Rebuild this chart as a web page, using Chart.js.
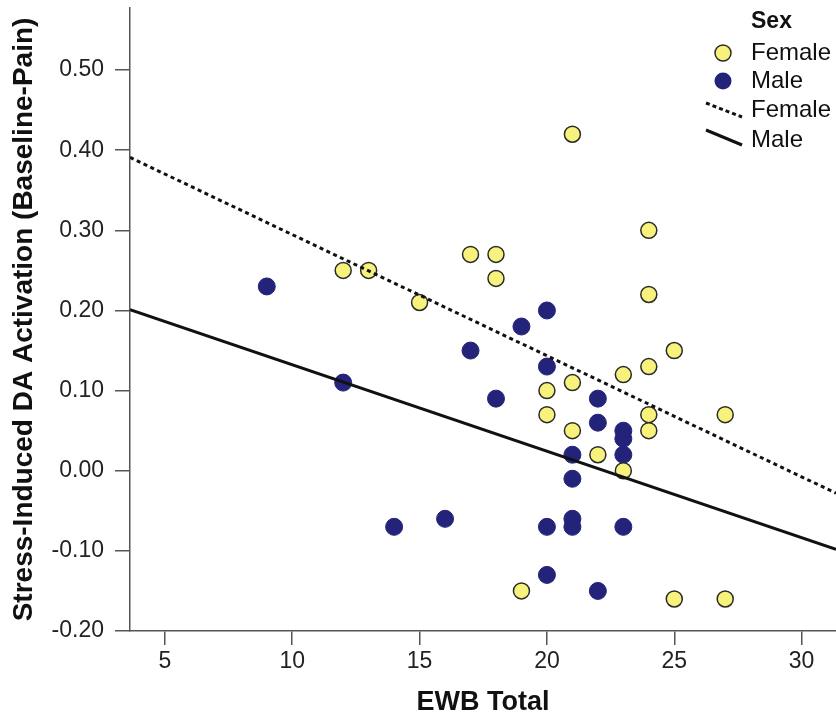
<!DOCTYPE html>
<html>
<head>
<meta charset="utf-8">
<script src="https://cdn.jsdelivr.net/npm/chart.js@4.4.0/dist/chart.umd.min.js"></script>
<style>
  body { margin: 0; background: #fff; }
  #wrap { width: 836px; height: 721px; }
</style>
</head>
<body>
<div id="wrap"><canvas id="scatterChart" width="836" height="721"></canvas></div>
<script>
// EWB total vs stress-induced DA activation, split by sex
const femaleEwb = [12, 13, 15, 17, 18, 18, 21, 24, 24, 25, 24, 23, 21, 20, 20, 24, 27, 21, 24, 22, 23, 19, 25, 27];
const femaleDa = [0.25, 0.25, 0.21, 0.27, 0.27, 0.24, 0.42, 0.30, 0.22, 0.15, 0.13, 0.12, 0.11, 0.10, 0.07, 0.07, 0.07, 0.05, 0.05, 0.02, 0.00, -0.15, -0.16, -0.16];

const maleEwb = [9, 12, 14, 16, 17, 18, 19, 20, 20, 20, 20, 21, 21, 21, 21, 22, 22, 22, 23, 23, 23, 23];
const maleDa = [0.23, 0.11, -0.07, -0.06, 0.15, 0.09, 0.18, 0.20, 0.13, -0.07, -0.13, 0.02, -0.01, -0.06, -0.07, 0.09, 0.06, -0.15, 0.05, 0.04, 0.02, -0.07];

// fit lines, read at both ends of the x axis
const fitEwb = [3.63, 31.35];
const femaleFit = [0.391, -0.028];
const maleFit = [0.201, -0.098];

const xTicks = [5, 10, 15, 20, 25, 30];
const yTicks = [-0.2, -0.1, 0, 0.1, 0.2, 0.3, 0.4, 0.5];

const FONT = '"Liberation Sans", Arial, sans-serif';
const YELLOW = '#f6f27c';
const NAVY = '#23237a';

function toPoints(xs, ys) {
    return xs.map((x, i) => ({ x: x, y: ys[i] }));
}

// hand-drawn legend in the top right corner
const sexLegend = {
    id: 'sexLegend',
    afterDraw(chart) {
        const ctx = chart.ctx;
        ctx.save();
        ctx.fillStyle = '#111';
        ctx.textBaseline = 'middle';
        ctx.textAlign = 'left';
        ctx.font = 'bold 23px ' + FONT;
        ctx.fillText('Sex', 751, 22);

        ctx.font = '24px ' + FONT;
        const ds = chart.data.datasets;

        // point symbols
        ctx.lineWidth = 1.5;
        ctx.beginPath();
        ctx.arc(723, 53, 8, 0, Math.PI * 2);
        ctx.fillStyle = YELLOW;
        ctx.fill();
        ctx.strokeStyle = '#2a2a2a';
        ctx.stroke();
        ctx.beginPath();
        ctx.arc(723, 81, 8.5, 0, Math.PI * 2);
        ctx.fillStyle = NAVY;
        ctx.fill();

        // line symbols
        ctx.strokeStyle = '#111';
        ctx.lineWidth = 3;
        ctx.setLineDash([4, 3]);
        ctx.beginPath();
        ctx.moveTo(706, 103);
        ctx.lineTo(742, 117);
        ctx.stroke();
        ctx.setLineDash([]);
        ctx.beginPath();
        ctx.moveTo(706, 130);
        ctx.lineTo(742, 145);
        ctx.stroke();

        ctx.fillStyle = '#111';
        ctx.fillText(ds[0].label, 751, 53);
        ctx.fillText(ds[1].label, 751, 81);
        ctx.fillText(ds[2].label, 751, 110);
        ctx.fillText(ds[3].label, 751, 140);
        ctx.restore();
    }
};

const ctx = document.getElementById('scatterChart').getContext('2d');
const chart = new Chart(ctx, {
    type: 'scatter',
    data: {
        datasets: [{
            label: 'Female',
            data: toPoints(femaleEwb, femaleDa),
            backgroundColor: YELLOW,
            borderColor: '#2a2a2a',
            borderWidth: 1.5,
            pointRadius: 8,
            order: 2
        }, {
            label: 'Male',
            data: toPoints(maleEwb, maleDa),
            backgroundColor: NAVY,
            borderColor: NAVY,
            borderWidth: 1,
            pointRadius: 8.5,
            order: 2
        }, {
            label: 'Female',
            data: toPoints(fitEwb, femaleFit),
            showLine: true,
            borderColor: '#111',
            borderWidth: 3,
            borderDash: [4, 3.5],
            pointRadius: 0,
            order: 1
        }, {
            label: 'Male',
            data: toPoints(fitEwb, maleFit),
            showLine: true,
            borderColor: '#111',
            borderWidth: 3,
            pointRadius: 0,
            order: 1
        }]
    },
    options: {
        responsive: false,
        animation: false,
        devicePixelRatio: 1,
        layout: { autoPadding: false, padding: { top: 8, right: 0, left: 0, bottom: 0 } },
        plugins: {
            legend: { display: false },
            tooltip: { enabled: false }
        },
        scales: {
            x: {
                type: 'linear',
                min: fitEwb[0],
                max: fitEwb[1],
                afterBuildTicks: s => { s.ticks = xTicks.map(v => ({ value: v })); },
                afterFit: s => { s.height = 90; s.paddingLeft = 0; s.paddingRight = 0; },
                border: { color: '#555', width: 1.5 },
                grid: { drawOnChartArea: false, drawTicks: true, tickLength: 14, color: '#555', lineWidth: 1.5 },
                ticks: { color: '#222', padding: 3, font: { family: FONT, size: 23 } },
                title: {
                    display: true,
                    text: 'EWB Total',
                    color: '#111',
                    font: { family: FONT, size: 27, weight: 'bold' },
                    padding: { top: 0, bottom: 2 }
                }
            },
            y: {
                type: 'linear',
                min: -0.2,
                max: 0.5775,
                afterBuildTicks: s => { s.ticks = yTicks.map(v => ({ value: v })); },
                afterFit: s => { s.width = 130; s.paddingTop = 0; s.paddingBottom = 0; },
                border: { color: '#555', width: 1.5 },
                grid: { drawOnChartArea: false, drawTicks: true, tickLength: 15, color: '#555', lineWidth: 1.5 },
                ticks: {
                    color: '#222',
                    padding: 11,
                    font: { family: FONT, size: 23 },
                    callback: v => v.toFixed(2)
                },
                title: {
                    display: true,
                    text: 'Stress-Induced DA Activation (Baseline-Pain)',
                    color: '#111',
                    font: { family: FONT, size: 28, weight: 'bold' },
                    padding: { top: 7, bottom: 0 }
                }
            }
        }
    },
    plugins: [sexLegend]
});
</script>
</body>
</html>
